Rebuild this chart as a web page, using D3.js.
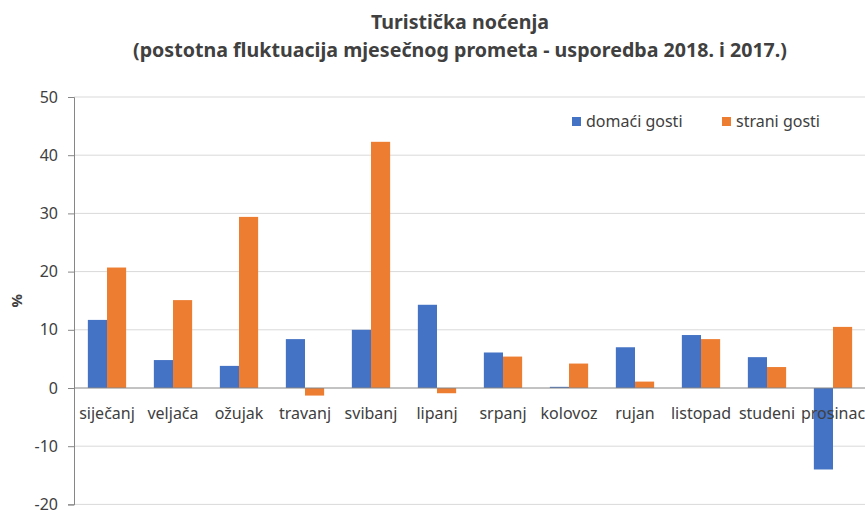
<!DOCTYPE html>
<html>
<head>
<meta charset="utf-8">
<script src="https://cdn.jsdelivr.net/npm/d3@7"></script>
<style>
  body { margin: 0; background: #fff; }
  text { font-family: "Noto Sans", "Open Sans", sans-serif; fill: #404040; }
</style>
</head>
<body>
<svg id="chart" width="865" height="511"></svg>
<script>
// chart data
const months = ["siječanj", "veljača", "ožujak", "travanj", "svibanj", "lipanj",
  "srpanj", "kolovoz", "rujan", "listopad", "studeni", "prosinac"];
const domaci = [11.7, 4.8, 3.8, 8.4, 10.0, 14.3, 6.1, 0.2, 7.0, 9.1, 5.3, -14.0];
const strani = [20.7, 15.1, 29.4, -1.3, 42.3, -0.9, 5.4, 4.2, 1.1, 8.4, 3.6, 10.5];
const seriesNames = ["domaći gosti", "strani gosti"];
const yTicks = [-20, -10, 0, 10, 20, 30, 40, 50];

const colors = ["#4472C4", "#ED7D31"];
const svg = d3.select("#chart");
const plotLeft = 74, plotRight = 866, plotTop = 97, plotBottom = 504.4;

const x = d3.scaleBand().domain(months).range([plotLeft, plotRight]).paddingInner(0.42).paddingOuter(0.21);
const xs = d3.scaleBand().domain([0, 1]).range([0, x.bandwidth()]);
const y = d3.scaleLinear().domain([-20, 50]).range([plotBottom, plotTop]);

// title
const title = svg.append("g").attr("font-weight", "bold");
title.append("text").attr("x", 460).attr("y", 29).attr("text-anchor", "middle")
  .attr("font-size", 19).attr("textLength", 178).attr("lengthAdjust", "spacingAndGlyphs")
  .text("Turistička noćenja");
title.append("text").attr("x", 460).attr("y", 57).attr("text-anchor", "middle")
  .attr("font-size", 19).attr("textLength", 654).attr("lengthAdjust", "spacingAndGlyphs")
  .text("(postotna fluktuacija  mjesečnog prometa - usporedba 2018. i 2017.)");

// gridlines
svg.append("g").selectAll("line").data(yTicks.filter(d => d !== 0)).enter().append("line")
  .attr("x1", plotLeft).attr("x2", plotRight)
  .attr("y1", d => y(d)).attr("y2", d => y(d))
  .attr("stroke", "#d9d9d9").attr("stroke-width", 1);

// bars
const groups = svg.append("g").selectAll("g").data(months).enter().append("g")
  .attr("transform", d => "translate(" + x(d) + ",0)");
groups.selectAll("rect")
  .data((d, i) => [domaci[i], strani[i]])
  .enter().append("rect")
  .attr("x", (d, j) => xs(j))
  .attr("width", xs.bandwidth())
  .attr("y", d => y(Math.max(0, d)))
  .attr("height", d => Math.abs(y(d) - y(0)))
  .attr("fill", (d, j) => colors[j]);

// zero line
svg.append("line").attr("x1", plotLeft).attr("x2", plotRight)
  .attr("y1", y(0)).attr("y2", y(0)).attr("stroke", "#868686");

// y axis
const yAxis = svg.append("g").attr("transform", "translate(" + plotLeft + ",0)")
  .call(d3.axisLeft(y).tickValues(yTicks).tickSize(6).tickPadding(10).tickFormat(d => String(d)));
yAxis.select(".domain").attr("stroke", "#868686");
yAxis.selectAll(".tick line").attr("stroke", "#868686");
yAxis.selectAll("text").attr("font-size", 16).attr("font-family", "Noto Sans").attr("fill", "#404040");

svg.append("text").attr("transform", "translate(22," + y(15) + ") rotate(-90)")
  .attr("text-anchor", "middle").attr("font-size", 15).attr("font-weight", "bold").text("%");

// category labels
svg.append("g").selectAll("text").data(months).enter().append("text")
  .attr("x", d => x(d) + x.bandwidth() / 2)
  .attr("y", y(0) + 31)
  .attr("text-anchor", "middle").attr("font-size", 16)
  .text(d => d);

// legend
const legend = svg.append("g").selectAll("g").data(seriesNames).enter().append("g")
  .attr("transform", (d, i) => "translate(" + (572 + i * 150) + ",117)");
legend.append("rect").attr("width", 9).attr("height", 9).attr("fill", (d, i) => colors[i]);
legend.append("text").attr("x", 14).attr("y", 10).attr("font-size", 16).text(d => d);
</script>
</body>
</html>
